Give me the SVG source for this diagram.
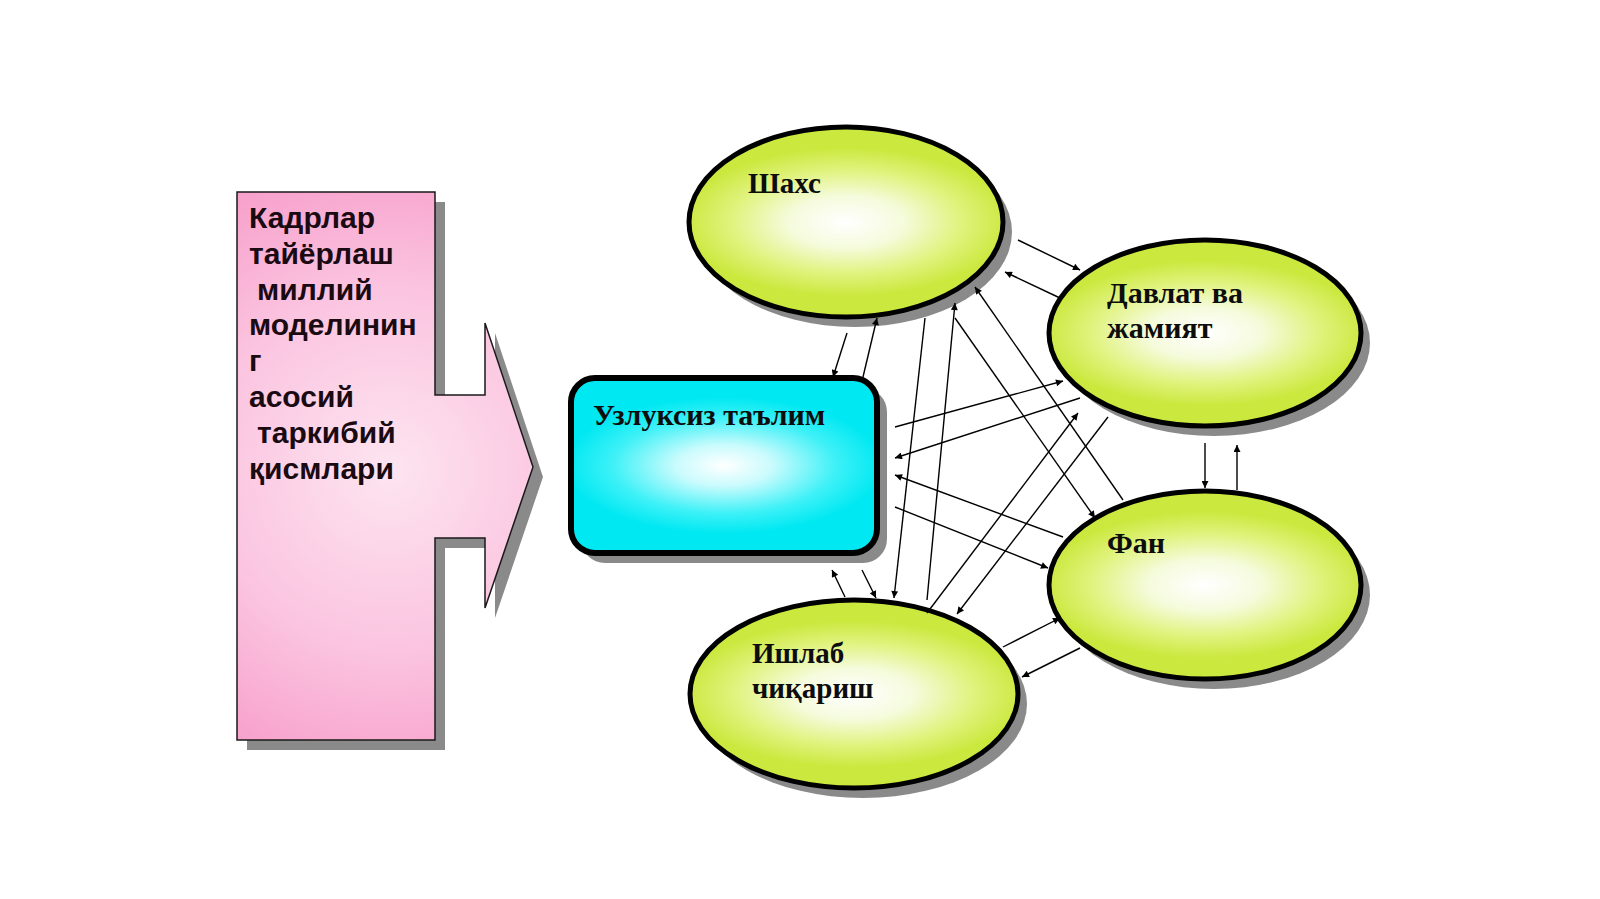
<svg xmlns="http://www.w3.org/2000/svg" width="1600" height="899" viewBox="0 0 1600 899">
<style>
.shadow{fill:#8a8a8a}
.ell{fill:url(#gEll);stroke:#000;stroke-width:5}
.box{fill:url(#gBox);stroke:#000;stroke-width:6}
.lbl{font-family:"Liberation Serif","Times New Roman",serif;font-weight:bold;font-size:29px;fill:#0d0d0d}
.pk{font-family:"Liberation Sans",Arial,sans-serif;font-weight:bold;font-size:30px;fill:#1a0a12}
.cn line{stroke:#000;stroke-width:1.4;marker-end:url(#ah)}
</style>
<defs>
<radialGradient id="gEll" cx="0.5" cy="0.5" r="0.52" gradientTransform="translate(0.5,0.5) scale(1,0.75) translate(-0.5,-0.5)">
<stop offset="0" stop-color="#ffffff"/>
<stop offset="0.35" stop-color="#f5fbdc"/>
<stop offset="0.7" stop-color="#e0f37e"/>
<stop offset="1" stop-color="#cbe83e"/>
</radialGradient>
<radialGradient id="gBox" cx="0.5" cy="0.5" r="0.52" gradientTransform="translate(0.5,0.5) scale(1,0.75) translate(-0.5,-0.5)">
<stop offset="0" stop-color="#ffffff"/>
<stop offset="0.3" stop-color="#cafbfd"/>
<stop offset="0.7" stop-color="#3ef1f7"/>
<stop offset="1" stop-color="#00e8f2"/>
</radialGradient>
<radialGradient id="gPink" gradientUnits="userSpaceOnUse" cx="390" cy="470" r="330">
<stop offset="0" stop-color="#fde4f0"/>
<stop offset="0.55" stop-color="#fbc4e0"/>
<stop offset="1" stop-color="#f79cc9"/>
</radialGradient>
<marker id="ah" viewBox="0 0 10 10" refX="10" refY="5" markerWidth="9" markerHeight="7" markerUnits="userSpaceOnUse" orient="auto">
<path d="M0,0 L10,5 L0,10 Z" fill="#000"/>
</marker>
</defs>
<rect width="1600" height="899" fill="#ffffff"/>

<g id="main-arrow">
<path class="shadow" fill="#7d7d7d" d="M247,202 H445 V405 H495 V333 L543,477 L495,618 V548 H445 V750 H247 Z"/>
<path d="M237,192 H435 V395 H485 V323 L533,467 L485,608 V538 H435 V740 H237 Z" fill="url(#gPink)" stroke="#1a1a1a" stroke-width="1.5"/>
<text class="pk" x="249" y="228">Кадрлар</text>
<text class="pk" x="249" y="264">тайёрлаш</text>
<text class="pk" x="257" y="300">миллий</text>
<text class="pk" x="249" y="335">моделинин</text>
<text class="pk" x="249" y="371">г</text>
<text class="pk" x="249" y="407">асосий</text>
<text class="pk" x="257" y="443">таркибий</text>
<text class="pk" x="249" y="479">қисмлари</text>
</g>

<g id="node-uzluksiz">
<rect class="shadow" x="581" y="388" width="306" height="175" rx="24"/>
<rect class="box" x="571" y="378" width="306" height="175" rx="24"/>
<text class="lbl" x="593" y="425" style="font-size:30px">Узлуксиз таълим</text>
</g>

<g id="node-shaxs">
<ellipse class="shadow" cx="855" cy="232" rx="157" ry="95"/>
<ellipse class="ell" cx="846" cy="222" rx="157" ry="95"/>
<text class="lbl" x="748" y="193">Шахс</text>
</g>

<g id="node-davlat">
<ellipse class="shadow" cx="1214" cy="343" rx="156" ry="93"/>
<ellipse class="ell" cx="1205" cy="333" rx="156" ry="93"/>
<text class="lbl" x="1107" y="303" style="font-size:30px">Давлат ва</text>
<text class="lbl" x="1107" y="338" style="font-size:30px">жамият</text>
</g>

<g id="node-fan">
<ellipse class="shadow" cx="1214" cy="595" rx="156" ry="94"/>
<ellipse class="ell" cx="1205" cy="585" rx="156" ry="94"/>
<text class="lbl" x="1107" y="553" style="font-size:30px">Фан</text>
</g>

<g id="node-ishlab">
<ellipse class="shadow" cx="863" cy="704" rx="164" ry="94"/>
<ellipse class="ell" cx="854" cy="694" rx="164" ry="94"/>
<text class="lbl" x="752" y="663">Ишлаб</text>
<text class="lbl" x="752" y="698">чиқариш</text>
</g>

<g id="connectors" class="cn">
<line x1="847" y1="333" x2="833" y2="377"/>
<line x1="863" y1="377" x2="877" y2="318"/>
<line x1="925" y1="318" x2="894" y2="598"/>
<line x1="927" y1="600" x2="955" y2="303"/>
<line x1="955" y1="318" x2="1095" y2="518"/>
<line x1="1123" y1="500" x2="975" y2="287"/>
<line x1="1018" y1="240" x2="1080" y2="270"/>
<line x1="1060" y1="298" x2="1005" y2="272"/>
<line x1="895" y1="427" x2="1063" y2="381"/>
<line x1="1080" y1="398" x2="895" y2="458"/>
<line x1="1063" y1="537" x2="895" y2="475"/>
<line x1="895" y1="507" x2="1048" y2="568"/>
<line x1="927" y1="613" x2="1078" y2="413"/>
<line x1="1108" y1="417" x2="957" y2="614"/>
<line x1="1205" y1="443" x2="1205" y2="488"/>
<line x1="1237" y1="490" x2="1237" y2="445"/>
<line x1="1003" y1="647" x2="1060" y2="618"/>
<line x1="1080" y1="648" x2="1022" y2="677"/>
<line x1="845" y1="597" x2="832" y2="570"/>
<line x1="862" y1="570" x2="876" y2="598"/>
</g>
</svg>
